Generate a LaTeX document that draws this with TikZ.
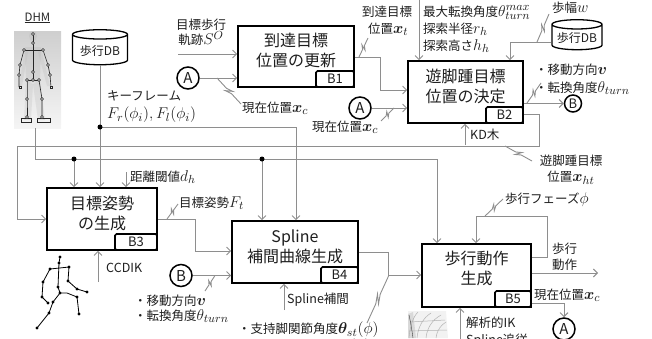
\documentclass[tikz,border=0pt]{standalone}
\usepackage[no-math]{fontspec}
\setmainfont{Noto Sans CJK JP}
\usepackage{bm}
\usepackage{graphicx}
\usetikzlibrary{arrows.meta,calc,shapes.geometric}

\definecolor{linegray}{HTML}{8E8E8E}
\definecolor{txt}{HTML}{1E1E1E}

% math set a little larger than the surrounding text
\newcommand\mth[1]{\scalebox{1.3}{$#1$}}

\tikzset{
  conn/.style={draw=linegray, line width=0.9pt},
  arr/.style={conn, -{Straight Barb[length=4pt,width=8pt]}},
  box/.style={draw=black, line width=1.6pt, rectangle, inner sep=0pt},
  boxtxt/.style={align=center, font=\fontsize{16}{20}\selectfont, inner sep=0pt},
  tag/.style={draw=black, line width=1.6pt, fill=white, rectangle, rounded corners=1.5pt,
    minimum width=38pt, minimum height=16pt, inner sep=0pt, anchor=south east,
    font=\fontsize{13}{13}\selectfont},
  lbl/.style={inner sep=0pt, align=left, anchor=west},
  circ/.style={draw=black, line width=1.5pt, circle, minimum size=22pt, inner sep=0pt,
    font=\fontsize{15}{15}\selectfont},
  db/.style={draw=black, line width=1.3pt, cylinder, shape border rotate=90, aspect=0.22,
    minimum width=55pt, minimum height=35pt, inner sep=1pt, font=\fontsize{12}{12}\selectfont},
  dot/.style={fill=black},
  bone/.style={draw=gray!30!black, line width=0.6pt},
  joint/.style={draw=gray!30!black, fill=gray!15, line width=0.5pt},
}

% pointer line with a lightning kink in its middle
\newcommand\zap[2]{\draw[conn] (#1) -- ($(#1)!0.40!(#2)$)
  -- ($(#1)!0.58!(#2)!2.5pt!90:(#2)$) -- ($(#1)!0.42!(#2)!-2.5pt!90:(#2)$)
  -- ($(#1)!0.60!(#2)$) -- (#2);}

\begin{document}
\begin{tikzpicture}[x=1pt,y=-1pt,font=\fontsize{12.5}{16}\selectfont,text=txt]
\useasboundingbox (0,0) rectangle (652,338);

% ---------- process blocks ----------
\node[box, minimum width=116pt, minimum height=61pt] (b1) at (296,56.5) {};
\node[tag] (t1) at (b1.south east) {B1};
\node[boxtxt] (b1txt) at ($(b1.center)+(0,-6)$) {到達目標\\位置の更新};

\node[box, minimum width=115pt, minimum height=62pt] (b2) at (465.5,92) {};
\node[tag, minimum width=37pt] (t2) at (b2.south east) {B2};
\node[boxtxt] (b2txt) at ($(b2.center)+(0,-6)$) {遊脚踵目標\\位置の決定};

\node[box, minimum width=110pt, minimum height=62pt] (b3) at (102,219) {};
\node[tag, minimum width=42pt] (t3) at (b3.south east) {B3};
\node[boxtxt] (b3txt) at ($(b3.center)+(0,-6)$) {目標姿勢\\の生成};

\node[box, minimum width=126pt, minimum height=62pt] (b4) at (295,252) {};
\node[tag, minimum width=37pt] (t4) at (b4.south east) {B4};
\node[boxtxt] (b4txt) at ($(b4.center)+(0,-5.5)$) {Spline\\補間曲線生成};

\node[box, minimum width=109pt, minimum height=63pt] (b5) at (476.5,275.5) {};
\node[tag, minimum width=36pt] (t5) at (b5.south east) {B5};
\node[boxtxt] (b5txt) at ($(b5.center)+(0,-7.5)$) {歩行動作\\生成};

% ---------- databases ----------
\node[db] (db1) at (100,50.5) {歩行DB};
\node[db, minimum width=50pt, minimum height=30pt] (db2) at (577,38) {歩行DB};

% ---------- connector circles ----------
\node[circ] (a1) at (188,78) {A};
\node[circ] (a2) at (360,108) {A};
\node[circ, minimum size=17pt, font=\fontsize{13}{13}\selectfont] (bR) at (573,103.5) {B};
\node[circ] (bL) at (181,275.5) {B};
\node[circ] (a3) at (564,329) {A};

% ---------- DHM model ----------
\node[font=\fontsize{11.5}{12}\selectfont, text=gray!30!black, inner sep=0pt] (dhmt) at (37.5,18) {\underline{DHM}};
\node[rectangle, top color=gray!38, bottom color=gray!8, minimum width=47pt, minimum height=97pt, inner sep=0pt] (dhm) at (37.5,79.5) {};
% faint body
\fill[gray!55, opacity=0.35] (33,36) ellipse [x radius=4, y radius=5];
\fill[gray!55, opacity=0.30] (25,47) -- (41,47) -- (40,82) -- (26,82) -- cycle;
\fill[gray!55, opacity=0.25] (25,48) -- (19,86) -- (22,86) -- (28,52) -- cycle;
\fill[gray!55, opacity=0.25] (41,48) -- (50,86) -- (47,86) -- (38,52) -- cycle;
\fill[gray!55, opacity=0.25] (26,80) -- (24,120) -- (31,120) -- (33,84) -- cycle;
\fill[gray!55, opacity=0.25] (40,80) -- (45,120) -- (38,120) -- (33,84) -- cycle;
% skeleton
\draw[bone] (33,34) -- (33,80);
\draw[bone] (24,50) -- (43,50);
\draw[bone] (24,50) -- (20,65) -- (19,75) -- (19,87);
\draw[bone] (43,50) -- (48,65) -- (50,75) -- (51,87);
\draw[bone] (27,80) -- (39,80);
\draw[bone] (27,80) -- (27,99) -- (27,117);
\draw[bone] (39,80) -- (42,99) -- (42,117);
\draw[bone] (21,118) rectangle (31,122);
\draw[bone] (37,118) rectangle (50,122);
\foreach \p in {(33,34),(33,43),(24,50),(43,50),(20,65),(48,65),(19,75),(50,75),
  (33,72),(33,80),(27,80),(39,80),(27,99),(42,99),(27,117),(42,117)}
  \filldraw[joint] \p circle (1.5);
\filldraw[joint] (19,86) rectangle (21,88);
\filldraw[joint] (50,86) rectangle (52,88);

% ---------- stick figure below B3 ----------
\draw[black, line width=0.8pt]
  (60,257) -- (59,263) -- (58,287) -- (60,293)
  (50,269) -- (69,267)
  (50,269) -- (43,282) -- (42,297) -- (48,303)
  (69,267) -- (68,281) -- (77,289) -- (87,292)
  (60,293) -- (67,293) -- (77,297) -- (79,314)
  (60,293) -- (53,302) -- (49,313) -- (37,328);
\foreach \p in {(60,257),(59,263),(50,269),(69,267),(43,282),(42,297),(48,303),
  (68,281),(77,289),(87,292),(58,287),(60,293),(77,297),(79,314),(53,302),(49,313),(37,328)}
  \fill[black] \p circle (1.7);

% ---------- leg model below B5 ----------
\fill[gray!10] (408,311) -- (446,311) -- (448,338) -- (408,338) -- cycle;
\fill[gray!30] (408,314) -- (413,312) -- (416,338) -- (408,338) -- cycle;
\draw[gray!60, line width=0.5pt]
  (409,338) .. controls (410,326) and (413,317) .. (418,312)
  (417,338) .. controls (418,327) and (423,318) .. (431,313)
  (426,338) .. controls (427,328) and (432,320) .. (441,315)
  (436,338) .. controls (437,330) and (441,325) .. (446,322)
  (410,322) -- (445,320) (409,331) -- (447,330);
\draw[gray!45!black, line width=0.4pt]
  (409,315) .. controls (411,324) and (412,331) .. (413,338);

% ---------- connectors ----------
\coordinate (s0) at (178,54);
\draw[arr] (s0) -- (s0 -| b1.west);
\draw[arr] (a1.east) -- (a1.east -| b1.west);

\coordinate (k1) at (380,57);
\coordinate (k2) at (380,90);
\draw[arr] (k1 -| b1.east) -- (k1) -- (k2) -- (k2 -| b2.west);
\draw[arr] (a2.east) -- (a2.east -| b2.west);

\coordinate (p0) at (419,0);
\draw[arr] (p0) -- (p0 |- b2.north);

\coordinate (k3) at (510,42);
\draw[arr] (k3 -| db2.west) -- (k3) -- (k3 |- b2.north);

\draw[arr] (bR -| b2.east) -- (bR.west);

% heel target loop back to B3
\coordinate (h1) at (539,114);
\coordinate (h2) at (539,146);
\coordinate (h3) at (17,146);
\coordinate (h4) at (17,219);
\draw[arr] (h1 -| b2.east) -- (h1) -- (h2) -- (h3) -- (h4) -- (h4 -| b3.west);

\coordinate (kd) at (465,145);
\draw[arr] (kd) -- (kd |- b2.south);

% DHM bus
\coordinate (d1) at (35,159);
\coordinate (d2) at (437,159);
\coordinate (d3) at (74,159);
\coordinate (d4) at (262,159);
\draw[arr] (d1 |- dhm.south) -- (d1) -- (d2) -- (d2 |- b5.north);
\draw[arr] (d3) -- (d3 |- b3.north);
\draw[arr] (d4) -- (d4 |- b4.north);
\fill[dot] (d3) circle (2.5);
\fill[dot] (d4) circle (2.5);

% key frames
\coordinate (kf) at (100,127);
\coordinate (kf2) at (296,127);
\draw[conn] (db1.south) -- (kf);
\draw[arr] (kf) -- (kf |- b3.north);
\draw[arr] (kf) -- (kf2) -- (kf2 |- b4.north);
\fill[dot] (kf) circle (2.5);

\coordinate (dh) at (126,172);
\draw[arr] (dh) -- (dh |- b3.north);
\coordinate (cc) at (98,282);
\draw[arr] (cc) -- (cc |- b3.south);

\coordinate (f1) at (195,219);
\coordinate (f2) at (195,251);
\draw[arr] (f1 -| b3.east) -- (f1) -- (f2) -- (f2 -| b4.west);
\draw[arr] (bL.east) -- (bL.east -| b4.west);

\coordinate (sp) at (284,310);
\draw[arr] (sp) -- (sp |- b4.south);

\coordinate (g1) at (388,252);
\coordinate (g2) at (388,275);
\draw[arr] (g1 -| b4.east) -- (g1) -- (g2) -- (g2 -| b5.west);

\coordinate (q1) at (547,257);
\coordinate (q2) at (547,216);
\coordinate (q3) at (476,216);
\draw[arr] (q1 -| b5.east) -- (q1) -- (q2) -- (q3) -- (q3 |- b5.north);

\coordinate (o1) at (598,273);
\draw[arr] (o1 -| b5.east) -- (o1);

\coordinate (c1) at (564,303);
\draw[arr] (c1 -| b5.east) -- (c1) -- (a3.north);

\coordinate (ik) at (460,340);
\draw[arr] (ik) -- (ik |- b5.south);

% ---------- pointer marks ----------
\zap{217,78}{241,104}
\zap{394,108}{381,121}
\zap{359,57}{368,38}
\zap{537,42}{549,14}
\zap{527,103}{541,83}
\zap{505,146}{532,161}
\zap{167,219}{178,204}
\zap{215,275.5}{205,291}
\zap{389,275}{367,323}
\zap{485,216}{503,199}

% ---------- labels ----------
\node[align=center, inner sep=0pt, font=\fontsize{12.5}{15.5}\selectfont] (lS) at (201,32.5) {目標歩行\\軌跡\mth{S^O}};
\node[inner sep=0pt] (lxt1) at (387,12) {到達目標};
\node[lbl] (lxt2) at (368,29) {位置\mth{\bm{x}_t}};
\node[lbl] (lxc1) at (242,108) {現在位置\mth{\bm{x}_c}};
\node[lbl] (lxc2) at (312,127) {現在位置\mth{\bm{x}_c}};
\node[lbl, anchor=north west, font=\fontsize{12.5}{17}\selectfont] (lpar) at (423,5)
  {最大転換角度\mth{\theta_{turn}^{max}}\\探索半径\mth{r_h}\\探索高さ\mth{h_h}};
\node[lbl] (lw) at (552,8) {歩幅\mth{w}};
\node[lbl, font=\fontsize{12.5}{18}\selectfont] (lvr) at (535,79) {・移動方向\mth{\bm{v}}\\・転換角度\mth{\theta_{turn}}};
\node[lbl] (lkd) at (470,135) {KD木};
\node[align=center, inner sep=0pt] (lht) at (571,170) {遊脚踵目標\\位置\mth{\bm{x}_{ht}}};
\node[lbl, font=\fontsize{12.5}{18}\selectfont] (lkf) at (107,107) {キーフレーム\\\mth{F_r(\phi_i), F_l(\phi_i)}};
\node[lbl] (ldh) at (130,177) {距離閾値\mth{d_h}};
\node[lbl] (lft) at (179,203) {目標姿勢\mth{F_t}};
\node[lbl] (lcc) at (106,268) {CCDIK};
\node[lbl, font=\fontsize{12.5}{15}\selectfont] (lvl) at (134,308.5) {・移動方向\mth{\bm{v}}\\・転換角度\mth{\theta_{turn}}};
\node[lbl] (lsp) at (287,300) {Spline補間};
\node[lbl, font=\fontsize{12.5}{17}\selectfont] (lst) at (238,338.5) {・支持脚関節角度\mth{\bm{\theta}_{st}(\phi)}\\・遊脚関節角度\mth{\bm{\theta}_{sw}(\phi)}};
\node[lbl] (lph) at (505,200) {歩行フェーズ\mth{\phi}};
\node[lbl] (lmo) at (552,256.5) {歩行\\動作};
\node[lbl] (lxc3) at (534,295) {現在位置\mth{\bm{x}_c}};
\node[lbl, font=\fontsize{12.5}{17}\selectfont] (lik) at (466,332.5) {解析的IK\\Spline追従};
\end{tikzpicture}
\end{document}
